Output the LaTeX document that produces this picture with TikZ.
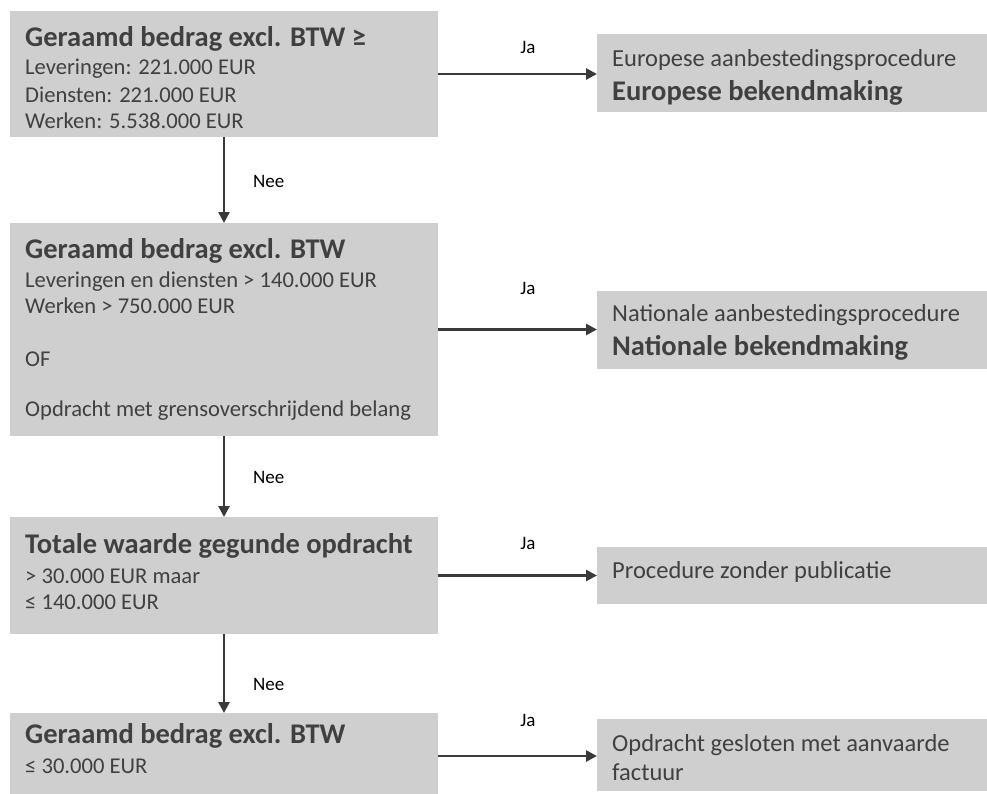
\documentclass[tikz,border=0pt]{standalone}
\usepackage{fontspec}
\setmainfont{Carlito}
\usetikzlibrary{arrows.meta}
\definecolor{boxgray}{HTML}{D0CFD0}
\definecolor{txt}{HTML}{404040}
\definecolor{arr}{HTML}{3A3A3A}
\begin{document}
\begin{tikzpicture}[x=1pt,y=-1pt,
  box/.style={fill=boxgray, draw=none, inner sep=0pt, outer sep=0pt, anchor=north west},
  ttl/.style={anchor=base west, inner sep=0pt, font=\fontsize{28.5}{34}\selectfont\bfseries, text=txt},
  body/.style={anchor=base west, inner sep=0pt, font=\fontsize{22.6}{27}\selectfont, text=txt},
  rbody/.style={anchor=base west, inner sep=0pt, font=\fontsize{24.5}{29}\selectfont, text=txt},
  lbl/.style={inner sep=0pt, font=\fontsize{19}{22}\selectfont, text=black},
  conn/.style={draw=arr, line width=2.6pt, -{Triangle[length=11pt,width=11pt]}}]
\useasboundingbox (0,0) rectangle (987,793);
\clip (0,0) rectangle (987,793);
% left boxes
\node[box, minimum width=428pt, minimum height=126pt] (b1) at (10,11) {};
\node[box, minimum width=428pt, minimum height=213pt] (b2) at (10,223) {};
\node[box, minimum width=428pt, minimum height=117pt] (b3) at (10,517) {};
\node[box, minimum width=428pt, minimum height=86pt] (b4) at (10,713) {};
% right boxes
\node[box, minimum width=400pt, minimum height=78pt] (r1) at (597,34) {};
\node[box, minimum width=400pt, minimum height=78pt] (r2) at (597,291) {};
\node[box, minimum width=400pt, minimum height=57pt] (r3) at (597,547) {};
\node[box, minimum width=400pt, minimum height=72pt] (r4) at (597,719) {};
% box 1 text
\node[ttl] (b1t) at (25,46) {Geraamd bedrag excl. BTW ≥};
\node[body] (b1a) at (25,74) {Leveringen: 221.000 EUR};
\node[body] (b1b) at (25,102) {Diensten: 221.000 EUR};
\node[body] (b1c) at (25,128) {Werken: 5.538.000 EUR};
% box 2 text
\node[ttl] (b2t) at (25,258) {Geraamd bedrag excl. BTW};
\node[body] (b2a) at (25,287) {Leveringen en diensten > 140.000 EUR};
\node[body] (b2b) at (25,313) {Werken > 750.000 EUR};
\node[body] (b2c) at (25,366) {OF};
\node[body] (b2d) at (25,416) {Opdracht met grensoverschrijdend belang};
% box 3 text
\node[ttl] (b3t) at (25,553) {Totale waarde gegunde opdracht};
\node[body] (b3a) at (25,583) {> 30.000 EUR maar};
\node[body] (b3b) at (25,609) {≤ 140.000 EUR};
% box 4 text
\node[ttl] (b4t) at (25,743) {Geraamd bedrag excl. BTW};
\node[body] (b4a) at (25,773) {≤ 30.000 EUR};
% right texts
\node[rbody] (r1a) at (612,66) {Europese aanbestedingsprocedure};
\node[ttl] (r1b) at (612,100) {Europese bekendmaking};
\node[rbody] (r2a) at (612,321) {Nationale aanbestedingsprocedure};
\node[ttl] (r2b) at (612,355) {Nationale bekendmaking};
\node[rbody] (r3a) at (612,578) {Procedure zonder publicatie};
\node[rbody] (r4a) at (612,751) {Opdracht gesloten met aanvaarde};
\node[rbody] (r4b) at (612,780) {factuur};
% connectors
\draw[conn] (b1.east) -- (b1.east -| r1.west);
\draw[conn] (b2.east) -- (b2.east -| r2.west);
\draw[conn] (b3.east) -- (b3.east -| r3.west);
\draw[conn] (b4.east) -- (b4.east -| r4.west);
\draw[conn] (b1.south) -- (b2.north);
\draw[conn] (b2.south) -- (b3.north);
\draw[conn] (b3.south) -- (b4.north);
% labels
\node[lbl, anchor=base] (ja1) at (528,53) {Ja};
\node[lbl, anchor=base] (ja2) at (528,294) {Ja};
\node[lbl, anchor=base] (ja3) at (528,549) {Ja};
\node[lbl, anchor=base] (ja4) at (528,726) {Ja};
\node[lbl, anchor=base west] (nee1) at (253,187) {Nee};
\node[lbl, anchor=base west] (nee2) at (253,483) {Nee};
\node[lbl, anchor=base west] (nee3) at (253,690) {Nee};
\end{tikzpicture}
\end{document}
